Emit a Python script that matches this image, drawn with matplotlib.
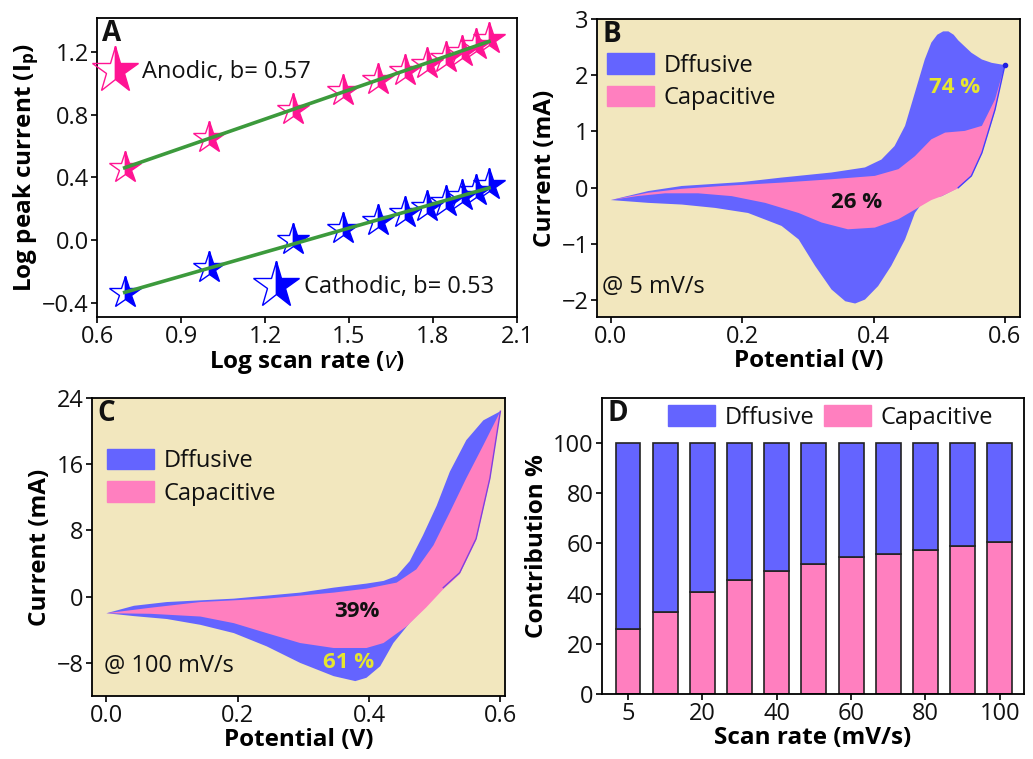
import matplotlib
matplotlib.use("Agg")
import matplotlib.pyplot as plt
from matplotlib.lines import Line2D
from matplotlib.patches import Patch
import numpy as np

plt.rcParams['font.family'] = ['Open Sans', 'DejaVu Sans']
plt.rcParams['font.size'] = 17
plt.rcParams['axes.linewidth'] = 1.3
plt.rcParams['xtick.major.width'] = 1.3
plt.rcParams['ytick.major.width'] = 1.3
plt.rcParams['xtick.major.size'] = 4
plt.rcParams['ytick.major.size'] = 4
plt.rcParams['xtick.major.pad'] = 2
plt.rcParams['ytick.major.pad'] = 2
plt.rcParams['text.color'] = '#111111'
plt.rcParams['xtick.color'] = '#111111'
plt.rcParams['ytick.color'] = '#111111'
plt.rcParams['mathtext.fontset'] = 'custom'
plt.rcParams['mathtext.it'] = 'Open Sans:italic'
plt.rcParams['mathtext.bf'] = 'Open Sans:bold'
plt.rcParams['mathtext.rm'] = 'Open Sans'

# scan rates (mV/s)
scan_rates = [5, 10, 20, 30, 40, 50, 60, 70, 80, 90, 100]

# panel A: log peak current
anodic_log_ip = [0.46, 0.65, 0.83, 0.95, 1.02, 1.08, 1.12, 1.16, 1.20, 1.24, 1.28]
cathodic_log_ip = [-0.34, -0.18, 0.0, 0.07, 0.12, 0.17, 0.21, 0.24, 0.28, 0.31, 0.35]

# panel B: CV at 5 mV/s (total and capacitive loops)
pot_b_fwd = [0.0, 0.057, 0.108, 0.2, 0.26, 0.336, 0.387, 0.412, 0.432, 0.448, 0.463,
             0.478, 0.488, 0.497, 0.506, 0.514, 0.522, 0.529, 0.549, 0.565, 0.58, 0.6]
cur_b_fwd = [-0.22, -0.06, 0.03, 0.10, 0.18, 0.27, 0.36, 0.50, 0.74, 1.10, 1.69,
             2.28, 2.58, 2.72, 2.78, 2.78, 2.72, 2.62, 2.40, 2.28, 2.22, 2.18]
pot_b_rev = [0.6, 0.585, 0.565, 0.549, 0.529, 0.504, 0.478, 0.463, 0.448, 0.427, 0.407,
             0.387, 0.372, 0.357, 0.336, 0.311, 0.286, 0.26, 0.209, 0.159, 0.108, 0.057, 0.0]
cur_b_rev = [2.18, 1.39, 0.62, 0.21, 0.0, -0.15, -0.21, -0.45, -0.92, -1.39, -1.75,
             -1.99, -2.06, -2.02, -1.81, -1.39, -0.92, -0.68, -0.45, -0.36, -0.30, -0.27, -0.22]
pot_b_cap_fwd = [0.0, 0.057, 0.108, 0.169, 0.26, 0.336, 0.402, 0.438, 0.463, 0.488,
                 0.509, 0.539, 0.565, 0.585, 0.6]
cur_b_cap_fwd = [-0.22, -0.09, -0.02, 0.03, 0.09, 0.15, 0.21, 0.33, 0.56, 0.86,
                 0.98, 1.01, 1.10, 1.57, 2.18]
pot_b_cap_rev = [0.6, 0.585, 0.565, 0.549, 0.529, 0.504, 0.488, 0.463, 0.438, 0.402,
                 0.361, 0.321, 0.286, 0.235, 0.184, 0.133, 0.083, 0.04, 0.0]
cur_b_cap_rev = [2.18, 1.36, 0.60, 0.20, -0.01, -0.15, -0.22, -0.39, -0.56, -0.71,
                 -0.74, -0.62, -0.45, -0.27, -0.15, -0.10, -0.10, -0.15, -0.22]

# panel C: CV at 100 mV/s
pot_c_fwd = [0.0, 0.042, 0.092, 0.194, 0.295, 0.346, 0.396, 0.422, 0.442, 0.462,
             0.482, 0.503, 0.523, 0.548, 0.574, 0.6]
cur_c_fwd = [-2.0, -1.1, -0.65, -0.24, 0.49, 1.09, 1.58, 1.9, 2.5, 4.3,
             7.4, 11.0, 15.1, 18.9, 21.3, 22.4]
pot_c_rev = [0.6, 0.584, 0.563, 0.538, 0.513, 0.487, 0.462, 0.437, 0.417, 0.396,
             0.379, 0.346, 0.295, 0.244, 0.194, 0.143, 0.092, 0.042, 0.0]
cur_c_rev = [22.4, 14.3, 7.0, 2.9, 1.09, -1.13, -3.16, -5.6, -8.4, -9.8,
             -10.2, -9.6, -8.0, -6.0, -4.4, -3.4, -2.7, -2.35, -2.0]
pot_c_cap_fwd = [0.0, 0.067, 0.143, 0.244, 0.346, 0.396, 0.442, 0.472, 0.498,
                 0.523, 0.548, 0.574, 0.6]
cur_c_cap_fwd = [-2.0, -1.34, -0.65, -0.24, 0.49, 0.97, 1.7, 3.3, 6.2,
                 10.2, 14.3, 18.3, 22.4]
pot_c_cap_rev = [0.6, 0.584, 0.563, 0.538, 0.513, 0.487, 0.457, 0.422, 0.396,
                 0.346, 0.295, 0.244, 0.194, 0.143, 0.067, 0.0]
cur_c_cap_rev = [22.4, 14.1, 6.8, 2.7, 0.9, -1.3, -3.6, -5.6, -6.2,
                 -6.2, -5.6, -4.4, -3.2, -2.4, -2.07, -2.0]

# panel D: capacitive contribution (%)
capacitive_pct = [26, 32.5, 40.5, 45.5, 49, 52, 54.5, 56, 57.5, 59, 60.5]
d_tick_labels = ['5', '20', '40', '60', '80', '100']

BLUE = '#6464FF'
PINK = '#FF7FBF'
BEIGE = '#F2E7BE'
YELLOW = '#E6E62E'
W, H = 1033, 759

fig = plt.figure(figsize=(W / 100, H / 100), dpi=100)


def px_axes(left, top, right, bottom):
    return fig.add_axes([left / W, 1 - bottom / H, (right - left) / W, (bottom - top) / H])


def panel_letter(ax, s):
    ax.text(0.012, 0.995, s, transform=ax.transAxes, fontsize=20, fontweight='bold',
            va='top', ha='left')


LBL = dict(fontweight='bold', fontsize=17.5)

# ---------------- A ----------------
ax = px_axes(97, 18, 517, 317)
log_v = np.log10(scan_rates)
for vals, col in [(anodic_log_ip, '#FF1493'), (cathodic_log_ip, '#0000FF')]:
    ax.plot(log_v, vals, ls='none', marker='*', ms=24, fillstyle='right',
            color=col, mec=col, mew=1.0, zorder=2)
    k, b = np.polyfit(log_v, vals, 1)
    ax.plot(log_v, k * log_v + b, color='#3C9A3C', lw=2.6, zorder=3)
ax.set_xlim(0.6, 2.1)
ax.set_ylim(-0.49, 1.415)
ax.set_xticks([0.6, 0.9, 1.2, 1.5, 1.8, 2.1])
ax.set_yticks([-0.4, 0.0, 0.4, 0.8, 1.2])
ax.set_xlabel('Log scan rate ($\\mathit{v}$)', labelpad=0, **LBL)
ax.set_ylabel('Log peak current (I$_\\mathbf{p}$)', labelpad=1, **LBL)
panel_letter(ax, 'A')
h_an = Line2D([], [], ls='none', marker='*', ms=24, fillstyle='right', color='#FF1493', mew=1.0)
h_ca = Line2D([], [], ls='none', marker='*', ms=24, fillstyle='right', color='#0000FF', mew=1.0)
leg1 = ax.legend([h_an], ['Anodic, b= 0.57'], loc='center left', bbox_to_anchor=(0.0, 0.82),
                 frameon=False, markerscale=1.45, handlelength=1.5, handletextpad=0.4,
                 borderpad=0, borderaxespad=0)
ax.add_artist(leg1)
ax.legend([h_ca], ['Cathodic, b= 0.53'], loc='center left', bbox_to_anchor=(0.385, 0.1),
          frameon=False, markerscale=1.45, handlelength=1.5, handletextpad=0.4,
          borderpad=0, borderaxespad=0)

# ---------------- B ----------------
ax = px_axes(597, 19, 1020, 317)
ax.set_facecolor(BEIGE)
ax.fill(pot_b_fwd + pot_b_rev, cur_b_fwd + cur_b_rev, color=BLUE, lw=0)
ax.fill(pot_b_cap_fwd + pot_b_cap_rev, cur_b_cap_fwd + cur_b_cap_rev, color=PINK, lw=0)
ax.plot(pot_b_rev[:5], cur_b_rev[:5], color='#4040FF', lw=1.0)
ax.plot(pot_b_fwd[-1:], cur_b_fwd[-1:], 'o', color='#2020E0', ms=3)
ax.set_xlim(-0.021, 0.623)
ax.set_ylim(-2.3, 3)
ax.set_xticks([0.0, 0.2, 0.4, 0.6])
ax.set_yticks([-2, -1, 0, 1, 2, 3])
ax.set_xlabel('Potential (V)', labelpad=0, **LBL)
ax.set_ylabel('Current (mA)', labelpad=3, **LBL)
panel_letter(ax, 'B')
ax.legend([Patch(color=BLUE), Patch(color=PINK)], ['Dffusive', 'Capacitive'],
          loc='upper left', bbox_to_anchor=(0.024, 0.885), frameon=False,
          handlelength=2.0, handleheight=0.95, handletextpad=0.4, labelspacing=0.35,
          borderpad=0, borderaxespad=0)
ax.text(0.523, 1.79, '74 %', color=YELLOW, fontsize=16, fontweight='bold',
        ha='center', va='center')
ax.text(0.374, -0.27, '26 %', color='#111111', fontsize=16, fontweight='bold',
        ha='center', va='center')
ax.text(0.012, 0.1, '@ 5 mV/s', transform=ax.transAxes, ha='left', va='center')

# ---------------- C ----------------
ax = px_axes(92, 398, 505, 696)
ax.set_facecolor(BEIGE)
ax.fill(pot_c_fwd + pot_c_rev, cur_c_fwd + cur_c_rev, color=BLUE, lw=0)
ax.fill(pot_c_cap_fwd + pot_c_cap_rev, cur_c_cap_fwd + cur_c_cap_rev, color=PINK, lw=0)
ax.plot(pot_c_rev[:5], cur_c_rev[:5], color='#8040E0', lw=1.0)
ax.set_xlim(-0.022, 0.607)
ax.set_ylim(-12, 24)
ax.set_xticks([0.0, 0.2, 0.4, 0.6])
ax.set_yticks([-8, 0, 8, 16, 24])
ax.set_xlabel('Potential (V)', labelpad=0, **LBL)
ax.set_ylabel('Current (mA)', labelpad=3, **LBL)
panel_letter(ax, 'C')
ax.legend([Patch(color=BLUE), Patch(color=PINK)], ['Dffusive', 'Capacitive'],
          loc='upper left', bbox_to_anchor=(0.036, 0.83), frameon=False,
          handlelength=2.0, handleheight=0.95, handletextpad=0.4, labelspacing=0.35,
          borderpad=0, borderaxespad=0)
ax.text(0.381, -1.8, '39%', color='#111111', fontsize=16, fontweight='bold',
        ha='center', va='center')
ax.text(0.368, -7.9, '61 %', color=YELLOW, fontsize=16, fontweight='bold',
        ha='center', va='center')
ax.text(0.03, 0.1, '@ 100 mV/s', transform=ax.transAxes, ha='left', va='center')

# ---------------- D ----------------
ax = px_axes(602, 398, 1024, 694)
pos = np.arange(len(scan_rates))
diffusive_pct = [100 - c for c in capacitive_pct]
ax.bar(pos, capacitive_pct, width=0.67, color=PINK, edgecolor='#222222', lw=1.2)
ax.bar(pos, diffusive_pct, width=0.67, bottom=capacitive_pct, color=BLUE,
       edgecolor='#222222', lw=1.2)
ax.set_xlim(-0.7, 10.65)
ax.set_ylim(0, 118)
ax.set_xticks(pos[::2])
ax.set_xticklabels(d_tick_labels)
ax.set_yticks([0, 20, 40, 60, 80, 100])
ax.set_xlabel('Scan rate (mV/s)', labelpad=0, **LBL)
ax.set_ylabel('Contribution %', labelpad=3, **LBL)
panel_letter(ax, 'D')
ax.legend([Patch(color=BLUE), Patch(color=PINK)], ['Dffusive', 'Capacitive'],
          loc='upper left', bbox_to_anchor=(0.156, 0.975), frameon=False, ncol=2,
          handlelength=2.0, handleheight=0.95, handletextpad=0.4, columnspacing=0.4,
          borderpad=0, borderaxespad=0)

fig.savefig('out.png', dpi=100)
